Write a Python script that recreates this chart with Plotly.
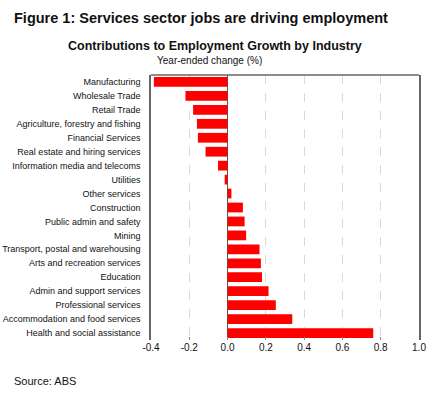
import plotly.graph_objects as go

industries = [
    "Manufacturing", "Wholesale Trade", "Retail Trade",
    "Agriculture, forestry and fishing", "Financial Services",
    "Real estate and hiring services", "Information media and telecoms",
    "Utilities", "Other services", "Construction", "Public admin and safety",
    "Mining", "Transport, postal and warehousing", "Arts and recreation services",
    "Education", "Admin and support services", "Professional services",
    "Accommodation and food services", "Health and social assistance",
]
values = [-0.385, -0.22, -0.18, -0.16, -0.155, -0.115, -0.05, -0.015, 0.02, 0.08,
          0.089, 0.097, 0.167, 0.174, 0.18, 0.214, 0.252, 0.338, 0.761]
x_ticks = [-0.4, -0.2, 0.0, 0.2, 0.4, 0.6, 0.8, 1.0]
x_tick_labels = ["-0.4", "-0.2", "0.0", "0.2", "0.4", "0.6", "0.8", "1.0"]

fig = go.Figure(go.Bar(
    x=values, y=industries, orientation="h",
    marker=dict(color="#ff0000", line=dict(width=0)),
    width=0.7,
))

font = "Liberation Sans, Arial, sans-serif"
L, R, T, B = 151, 14, 75, 56
PW, PH = 433 - L - R, 396 - T - B
fig.update_layout(
    width=433, height=396,
    margin=dict(l=L, r=R, t=T, b=B, autoexpand=False),
    paper_bgcolor="white", plot_bgcolor="white",
    showlegend=False,
    font=dict(family=font, color="#111"),
)
fig.update_xaxes(
    range=[-0.4, 1.0], tickvals=x_ticks, ticktext=x_tick_labels,
    showgrid=True, gridcolor="#ddd6dd", griddash="dash", gridwidth=1,
    zeroline=True, zerolinecolor="#555", zerolinewidth=1,
    showline=False, automargin=False,
    ticks="inside", ticklen=3, tickcolor="#888",
    tickfont=dict(size=10, family=font, color="#111"),
)
fig.update_yaxes(
    autorange="reversed", showgrid=False, automargin=False,
    showline=True, mirror=True, linecolor="#666", linewidth=1.5,
    ticks="", ticklabelstandoff=7,
    tickfont=dict(size=9, family=font, color="#111"),
)
fig.add_shape(type="line", xref="paper", yref="paper", x0=0, x1=1, y0=1, y1=1,
              line=dict(color="#666", width=1.5))

def px_x(x):
    return (x - L) / PW

def px_y(y):
    return 1 - (y - T) / PH

fig.add_annotation(text="<b>Figure 1: Services sector jobs are driving employment</b>",
                   xref="paper", yref="paper", x=px_x(12), y=px_y(18),
                   xanchor="left", yanchor="middle", showarrow=False,
                   font=dict(size=14.5, family=font, color="#111"))
fig.add_annotation(text="<b>Contributions to Employment Growth by Industry</b>",
                   xref="paper", yref="paper", x=px_x(215), y=px_y(46),
                   xanchor="center", yanchor="middle", showarrow=False,
                   font=dict(size=12.5, family=font, color="#111"))
fig.add_annotation(text="Year-ended change (%)",
                   xref="paper", yref="paper", x=px_x(209), y=px_y(60),
                   xanchor="center", yanchor="middle", showarrow=False,
                   font=dict(size=10, family=font, color="#111"))
fig.add_annotation(text="Source: ABS",
                   xref="paper", yref="paper", x=px_x(12), y=px_y(381),
                   xanchor="left", yanchor="middle", showarrow=False,
                   font=dict(size=11, family=font, color="#111"))

fig.write_html("out.html", config={"displayModeBar": False},
               post_script="document.body.style.margin='0';")
